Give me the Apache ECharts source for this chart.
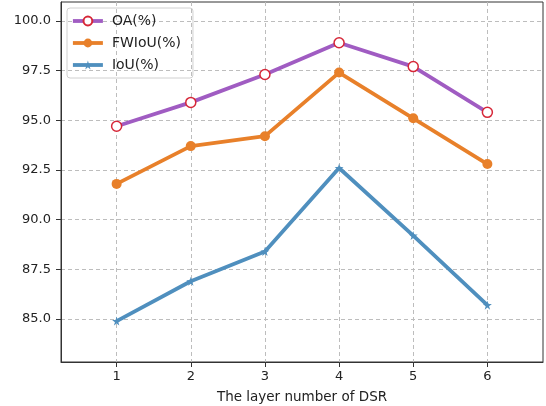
<!DOCTYPE html>
<html>
<head>
<meta charset="utf-8">
<script src="https://cdn.jsdelivr.net/npm/echarts@6/dist/echarts.min.js"></script>
<style>
  html, body { margin: 0; padding: 0; background: #fff; }
  #chart { width: 546px; height: 406px; }
</style>
</head>
<body>
<div id="chart"></div>
<script>
  // values
  const layers = [1, 2, 3, 4, 5, 6];
  const oa = [94.7, 95.9, 97.3, 98.9, 97.7, 95.4];
  const fwiou = [91.8, 93.7, 94.2, 97.4, 95.1, 92.8];
  const iou = [84.9, 86.9, 88.4, 92.6, 89.2, 85.7];
  const yTicks = [85, 87.5, 90, 92.5, 95, 97.5, 100];

  const font = 'DejaVu Sans';
  const star = 'path://M50,0 L61,35 L98,35 L68,57 L79,91 L50,70 L21,91 L32,57 L2,35 L39,35 Z';

  const pairs = vals => layers.map((x, i) => [x, vals[i]]);

  const chart = echarts.init(document.getElementById('chart'));
  chart.setOption({
    animation: false,
    textStyle: { fontFamily: font },
    grid: {
      left: 61, right: 3, top: 2, bottom: 44,
      outerBoundsMode: 'none', containLabel: false,
      show: true, borderColor: '#333', borderWidth: 1
    },
    legend: {
      orient: 'vertical',
      left: 67, top: 8,
      itemWidth: 30, itemHeight: 11, itemGap: 8,
      padding: [6, 12, 6, 4],
      borderColor: '#d0d0d0', borderWidth: 1, borderRadius: 3,
      lineStyle: { width: 3.8 },
      textStyle: { fontFamily: font, fontSize: 14, color: '#222', padding: [0, 0, 0, 4] },
      data: ['OA(%)', 'FWIoU(%)', 'IoU(%)']
    },
    xAxis: {
      type: 'value',
      min: 0.25, max: 6.75,
      name: 'The layer number of DSR',
      nameLocation: 'middle',
      nameGap: 28,
      nameTextStyle: { fontFamily: font, fontSize: 13.5, color: '#222' },
      axisLine: { show: true, lineStyle: { color: '#333' } },
      axisTick: { show: true, length: 5, customValues: layers, lineStyle: { color: '#333' } },
      axisLabel: { customValues: layers, fontFamily: font, fontSize: 13, color: '#222', margin: 8 },
      splitLine: { show: true, lineStyle: { color: '#bdbdbd', type: [4, 3] } }
    },
    yAxis: {
      type: 'value',
      min: 82.84, max: 100.95,
      axisLine: { show: true, lineStyle: { color: '#333' } },
      axisTick: { show: true, length: 5, customValues: yTicks, lineStyle: { color: '#333' } },
      axisLabel: {
        customValues: yTicks, fontFamily: font, fontSize: 13, color: '#222', margin: 10,
        formatter: v => v.toFixed(1)
      },
      splitLine: { show: true, lineStyle: { color: '#bdbdbd', type: [4, 3] } }
    },
    series: [
      {
        name: 'OA(%)', type: 'line', data: pairs(oa),
        lineStyle: { color: '#a05cc2', width: 3.8 },
        itemStyle: { color: '#fff', borderColor: '#d62738', borderWidth: 1.5 },
        symbol: 'circle', symbolSize: 10
      },
      {
        name: 'FWIoU(%)', type: 'line', data: pairs(fwiou),
        lineStyle: { color: '#e8802a', width: 3.8 },
        itemStyle: { color: '#e8802a' },
        symbol: 'circle', symbolSize: 10
      },
      {
        name: 'IoU(%)', type: 'line', data: pairs(iou),
        lineStyle: { color: '#4f8fbe', width: 3.8 },
        itemStyle: { color: '#4f8fbe' },
        symbol: star, symbolSize: 9
      }
    ]
  });
</script>
</body>
</html>
